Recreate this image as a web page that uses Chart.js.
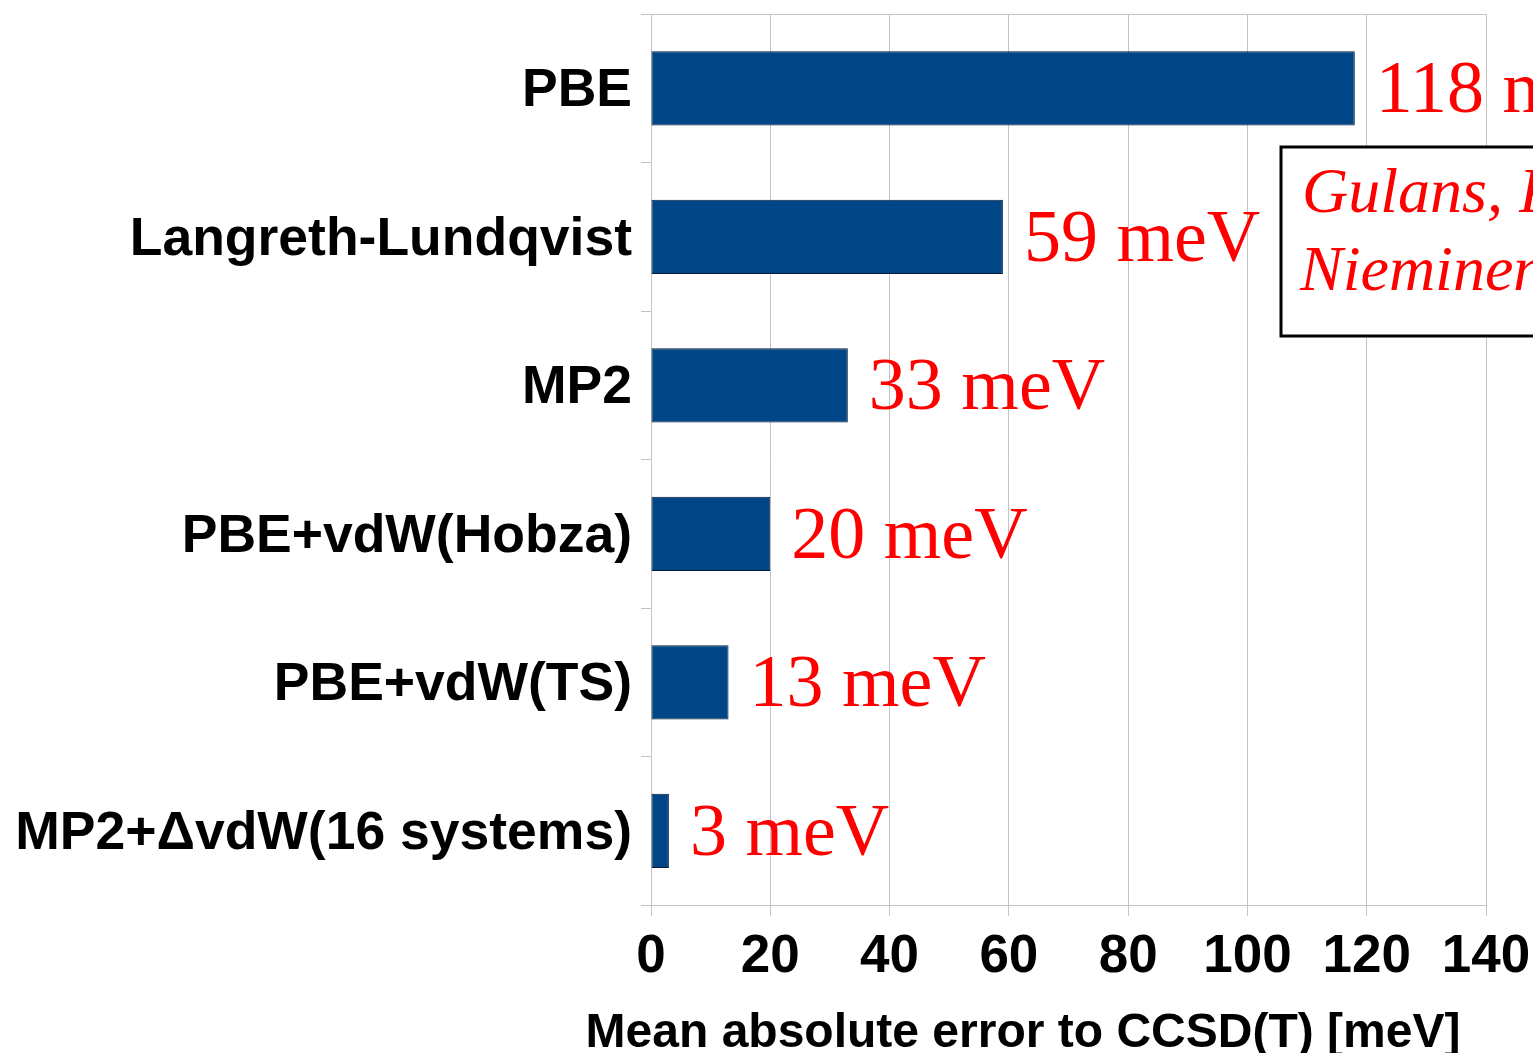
<!DOCTYPE html>
<html>
<head>
<meta charset="utf-8">
<script src="https://cdn.jsdelivr.net/npm/chart.js@4/dist/chart.umd.min.js"></script>
<style>
  html, body { margin: 0; padding: 0; background: #fff; }
  canvas { display: block; }
</style>
</head>
<body>
<canvas id="grafico" width="1533" height="1053"></canvas>
<script>
const metodos = ["PBE", "Langreth-Lundqvist", "MP2", "PBE+vdW(Hobza)", "PBE+vdW(TS)", "MP2+\u0394vdW(16 systems)"];
const erros = [118, 59, 33, 20, 13, 3];
const rotulos = ["118 meV", "59 meV", "33 meV", "20 meV", "13 meV", "3 meV"];
const ticksX = [0, 20, 40, 60, 80, 100, 120, 140];
const tituloX = "Mean absolute error to CCSD(T) [meV]";
const referencia = ["Gulans, Puska,", "Nieminen, PRB 2009"];

const cinza = '#c4c4c4';

// rótulos vermelhos no fim das barras
const rotulosBarras = {
  id: 'rotulosBarras',
  afterDatasetsDraw(chart) {
    const ctx = chart.ctx;
    const meta = chart.getDatasetMeta(0);
    ctx.save();
    ctx.fillStyle = '#ff0000';
    ctx.font = '74px "Liberation Serif"';
    ctx.textAlign = 'left';
    ctx.textBaseline = 'alphabetic';
    meta.data.forEach((bar, i) => {
      ctx.fillText(rotulos[i], bar.x + 21, bar.y + 24);
    });
    ctx.restore();
  }
};

// caixa de referência e título do eixo
const extras = {
  id: 'extras',
  afterDraw(chart) {
    const ctx = chart.ctx;
    ctx.save();
    ctx.fillStyle = '#fff';
    ctx.fillRect(1281, 147, 260, 189);
    ctx.strokeStyle = '#000';
    ctx.lineWidth = 3;
    ctx.strokeRect(1281, 147, 270, 189);
    ctx.fillStyle = '#ff0000';
    ctx.font = 'italic 64px "Liberation Serif"';
    ctx.textAlign = 'left';
    ctx.fillText(referencia[0], 1302, 212);
    ctx.fillText(referencia[1], 1300, 290);

    ctx.fillStyle = '#000';
    ctx.font = 'bold 48px "Liberation Sans"';
    ctx.textAlign = 'center';
    ctx.fillText(tituloX, 1023, 1047);
    ctx.restore();
  }
};

new Chart(document.getElementById('grafico'), {
  type: 'bar',
  data: {
    labels: metodos,
    datasets: [{
      data: erros,
      backgroundColor: '#004586',
      borderColor: '#061a33',
      borderWidth: 1,
      borderSkipped: false,
      barPercentage: 0.5,
      categoryPercentage: 1.0
    }]
  },
  options: {
    indexAxis: 'y',
    responsive: false,
    animation: false,
    devicePixelRatio: 1,
    layout: { padding: { top: 14, right: 47, left: 0, bottom: 0 } },
    plugins: {
      legend: { display: false },
      tooltip: { enabled: false }
    },
    scales: {
      x: {
        min: 0,
        max: 140,
        afterBuildTicks: axis => { axis.ticks = ticksX.map(v => ({ value: v })); },
        afterFit: axis => {
          axis.height = 148;
          axis.paddingLeft = 0;
          axis.paddingRight = 0;
        },
        grid: { color: cinza, lineWidth: 1, tickLength: 11 },
        border: { color: cinza },
        ticks: {
          color: '#000',
          padding: 10,
          font: { family: '"Liberation Sans"', size: 53, weight: 'bold' }
        }
      },
      y: {
        afterFit: axis => {
          axis.width = 651;
          axis.paddingTop = 0;
          axis.paddingBottom = 0;
        },
        grid: {
          offset: true,
          drawOnChartArea: true,
          color: c => c.index === 0 ? cinza : 'rgba(0,0,0,0)',
          tickColor: cinza,
          tickLength: 10
        },
        border: { color: cinza },
        ticks: {
          color: '#000',
          padding: 9,
          labelOffset: 3,
          font: { family: '"Liberation Sans"', size: 53.5, weight: 'bold' }
        }
      }
    }
  },
  plugins: [rotulosBarras, extras]
});
</script>
</body>
</html>
